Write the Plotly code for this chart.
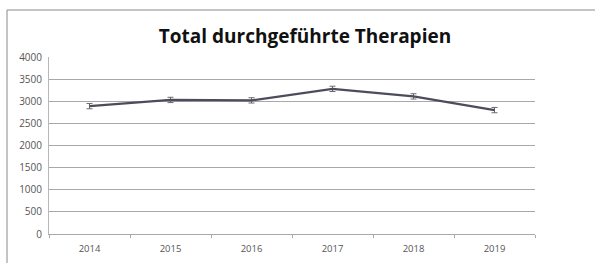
import plotly.graph_objects as go

years = ["2014", "2015", "2016", "2017", "2018", "2019"]
therapies = [2890, 3030, 3020, 3280, 3110, 2800]
errors = [60, 60, 60, 60, 60, 60]
y_ticks = [0, 500, 1000, 1500, 2000, 2500, 3000, 3500, 4000]

fig = go.Figure()
fig.add_trace(go.Scatter(
    x=years, y=therapies, mode="lines",
    line=dict(color="#4b4c5c", width=2.2),
    error_y=dict(type="data", array=errors, color="#6b6b6b", thickness=1, width=3),
    showlegend=False,
))

W, H = 595, 263
l, r, t, b = 49, 60, 57, 29
pw, ph = W - l - r, H - t - b

def px_x(x):
    return (x - l) / pw

def px_y(y):
    return (H - b - y) / ph

fig.add_shape(type="line", xref="paper", yref="paper",
              x0=px_x(7), x1=px_x(600), y0=px_y(10), y1=px_y(10),
              line=dict(color="#8a8a8a", width=1))
fig.add_shape(type="line", xref="paper", yref="paper",
              x0=px_x(7), x1=px_x(7), y0=px_y(10), y1=px_y(270),
              line=dict(color="#8a8a8a", width=1))

fig.update_layout(
    width=W, height=H,
    margin=dict(l=l, r=r, t=t, b=b, autoexpand=False),
    paper_bgcolor="white", plot_bgcolor="white",
    title=dict(text="<b>Total durchgeführte Therapien</b>", x=305 / W, xanchor="center",
               y=1 - 36 / H, yanchor="middle",
               font=dict(family="Open Sans, Liberation Sans, sans-serif", size=19, color="#111111")),
    font=dict(family="Open Sans, Liberation Sans, sans-serif", size=10, color="#555555"),
    xaxis=dict(type="category", range=[-0.5, 5.5], showgrid=False, showline=True,
               linecolor="#a8a8a8", zeroline=False, automargin=False,
               ticks="outside", tickson="boundaries", ticklen=3, tickcolor="#a8a8a8",
               ticklabelstandoff=6,
               tickfont=dict(size=9.5, color="#555555")),
    yaxis=dict(range=[0, 4000], tickvals=y_ticks, showgrid=True, gridcolor="#a8a8a8",
               gridwidth=1, zeroline=False, showline=True, linecolor="#b8b8b8",
               automargin=False,
               ticks="", tickfont=dict(size=10, color="#555555"), ticklabelstandoff=4),
)

fig.write_html("out.html", config={"displayModeBar": False},
               post_script="document.body.style.margin='0';document.body.style.overflow='hidden';")
